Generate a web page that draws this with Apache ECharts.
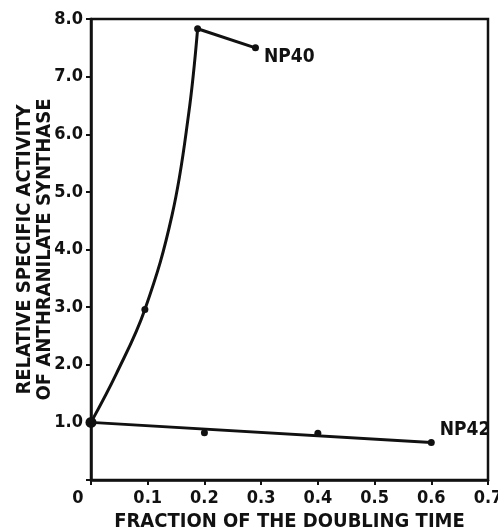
<!DOCTYPE html>
<html>
<head>
    <meta charset="utf-8">
    <title>Anthranilate synthase activity</title>
    <script src="https://cdn.jsdelivr.net/npm/echarts@6/dist/echarts.min.js"></script>
    <style>
        body { margin: 0; background: #fff; }
    </style>
</head>
<body>
    <div id="main" style="width: 498px;height:531px;"></div>

    <script type="text/javascript">
        var np40X = [0, 0.095, 0.188, 0.29]
        var np40Y = [1.0, 2.96, 7.83, 7.5]
        var np42X = [0, 0.2, 0.4, 0.6]
        var np42Y = [1.0, 0.82, 0.81, 0.65]
        var np40CurveX = [0, 0.045, 0.095, 0.143, 0.172, 0.188]
        var np40CurveY = [1.0, 1.85, 2.96, 4.60, 6.34, 7.83]
        // straight line drawn through the NP42 points
        var np42FitX = [0, 0.6]
        var np42FitY = [1.0, 0.65]
        var xTicks = [0, 0.1, 0.2, 0.3, 0.4, 0.5, 0.6, 0.7]
        var yTicks = [0, 1, 2, 3, 4, 5, 6, 7, 8]

        var ink = '#111'
        var font = "'DejaVu Sans Condensed', 'Liberation Sans Narrow', sans-serif"

        var pairs = function (xs, ys) {
            var out = []
            for (var i = 0; i < xs.length; i++) {
                out.push([xs[i], ys[i]])
            }
            return out
        }

        var np40 = pairs(np40X, np40Y)
        var np42 = pairs(np42X, np42Y)

        var endLabel = function (text, offset) {
            return {
                show: true, position: 'right', offset: offset,
                formatter: text, color: ink,
                fontFamily: font, fontWeight: 'bold', fontSize: 19
            }
        }

        var myChart = echarts.init(document.getElementById('main'))
        var option = {
            backgroundColor: '#fff',
            animation: false,
            grid: {
                left: 91, top: 19, right: 10, bottom: 51,
                outerBoundsMode: 'none',
                show: true,
                borderColor: ink,
                borderWidth: 2.5
            },
            xAxis: {
                type: 'value',
                min: xTicks[0],
                max: xTicks[xTicks.length - 1],
                interval: 0.1,
                name: 'FRACTION OF THE DOUBLING TIME',
                nameLocation: 'middle',
                nameGap: 32,
                nameTextStyle: { color: ink, fontFamily: font, fontWeight: 'bold', fontSize: 20 },
                axisLine: { onZero: false, lineStyle: { color: ink, width: 2.5 } },
                axisTick: { show: true, length: 5, lineStyle: { color: ink, width: 2 } },
                splitLine: { show: false },
                axisLabel: {
                    color: ink, fontFamily: font, fontWeight: 'bold', fontSize: 18, margin: 9,
                    formatter: function (v) {
                        if (v === 0) {
                            return '{z|0}'
                        }
                        return v.toFixed(1)
                    },
                    rich: {
                        z: { color: ink, fontFamily: font, fontWeight: 'bold', fontSize: 18, padding: [0, 26, 0, 0] }
                    }
                }
            },
            yAxis: {
                type: 'value',
                min: yTicks[0],
                max: yTicks[yTicks.length - 1],
                interval: 1,
                name: 'RELATIVE SPECIFIC ACTIVITY\nOF ANTHRANILATE SYNTHASE',
                nameLocation: 'middle',
                nameGap: 36,
                nameMoveOverlap: false,
                nameTextStyle: { color: ink, fontFamily: font, fontWeight: 'bold', fontSize: 20, lineHeight: 20 },
                axisLine: { onZero: false, lineStyle: { color: ink, width: 2.5 } },
                axisTick: { show: true, length: 5, lineStyle: { color: ink, width: 2 } },
                splitLine: { show: false },
                axisLabel: {
                    color: ink, fontFamily: font, fontWeight: 'bold', fontSize: 18, margin: 8,
                    formatter: function (v) {
                        return v === 0 ? '' : v.toFixed(1)
                    }
                }
            },
            series: [
                {
                    name: 'NP40 curve',
                    type: 'line',
                    smooth: 0.4,
                    data: pairs(np40CurveX, np40CurveY),
                    symbol: 'none',
                    lineStyle: { color: ink, width: 3 }
                },
                {
                    name: 'NP40 fall',
                    type: 'line',
                    data: np40.slice(2),
                    symbol: 'none',
                    lineStyle: { color: ink, width: 3 }
                },
                {
                    name: 'NP40',
                    type: 'scatter',
                    data: np40.map(function (p, i) {
                        var item = { value: p }
                        if (i === np40.length - 1) {
                            item.label = endLabel('NP40', [0, 9])
                        }
                        return item
                    }),
                    symbol: 'circle',
                    symbolSize: 7,
                    itemStyle: { color: ink, opacity: 1 }
                },
                {
                    name: 'NP42 fit',
                    type: 'line',
                    data: pairs(np42FitX, np42FitY),
                    symbol: 'none',
                    lineStyle: { color: ink, width: 3 }
                },
                {
                    name: 'NP42',
                    type: 'scatter',
                    data: np42.map(function (p, i) {
                        var item = { value: p }
                        if (i === 0) {
                            item.symbolSize = 11
                        }
                        if (i === np42.length - 1) {
                            item.label = endLabel('NP42', [0, -12])
                        }
                        return item
                    }),
                    symbol: 'circle',
                    symbolSize: 7,
                    itemStyle: { color: ink, opacity: 1 }
                }
            ]
        }
        myChart.setOption(option)
    </script>
</body>
</html>
